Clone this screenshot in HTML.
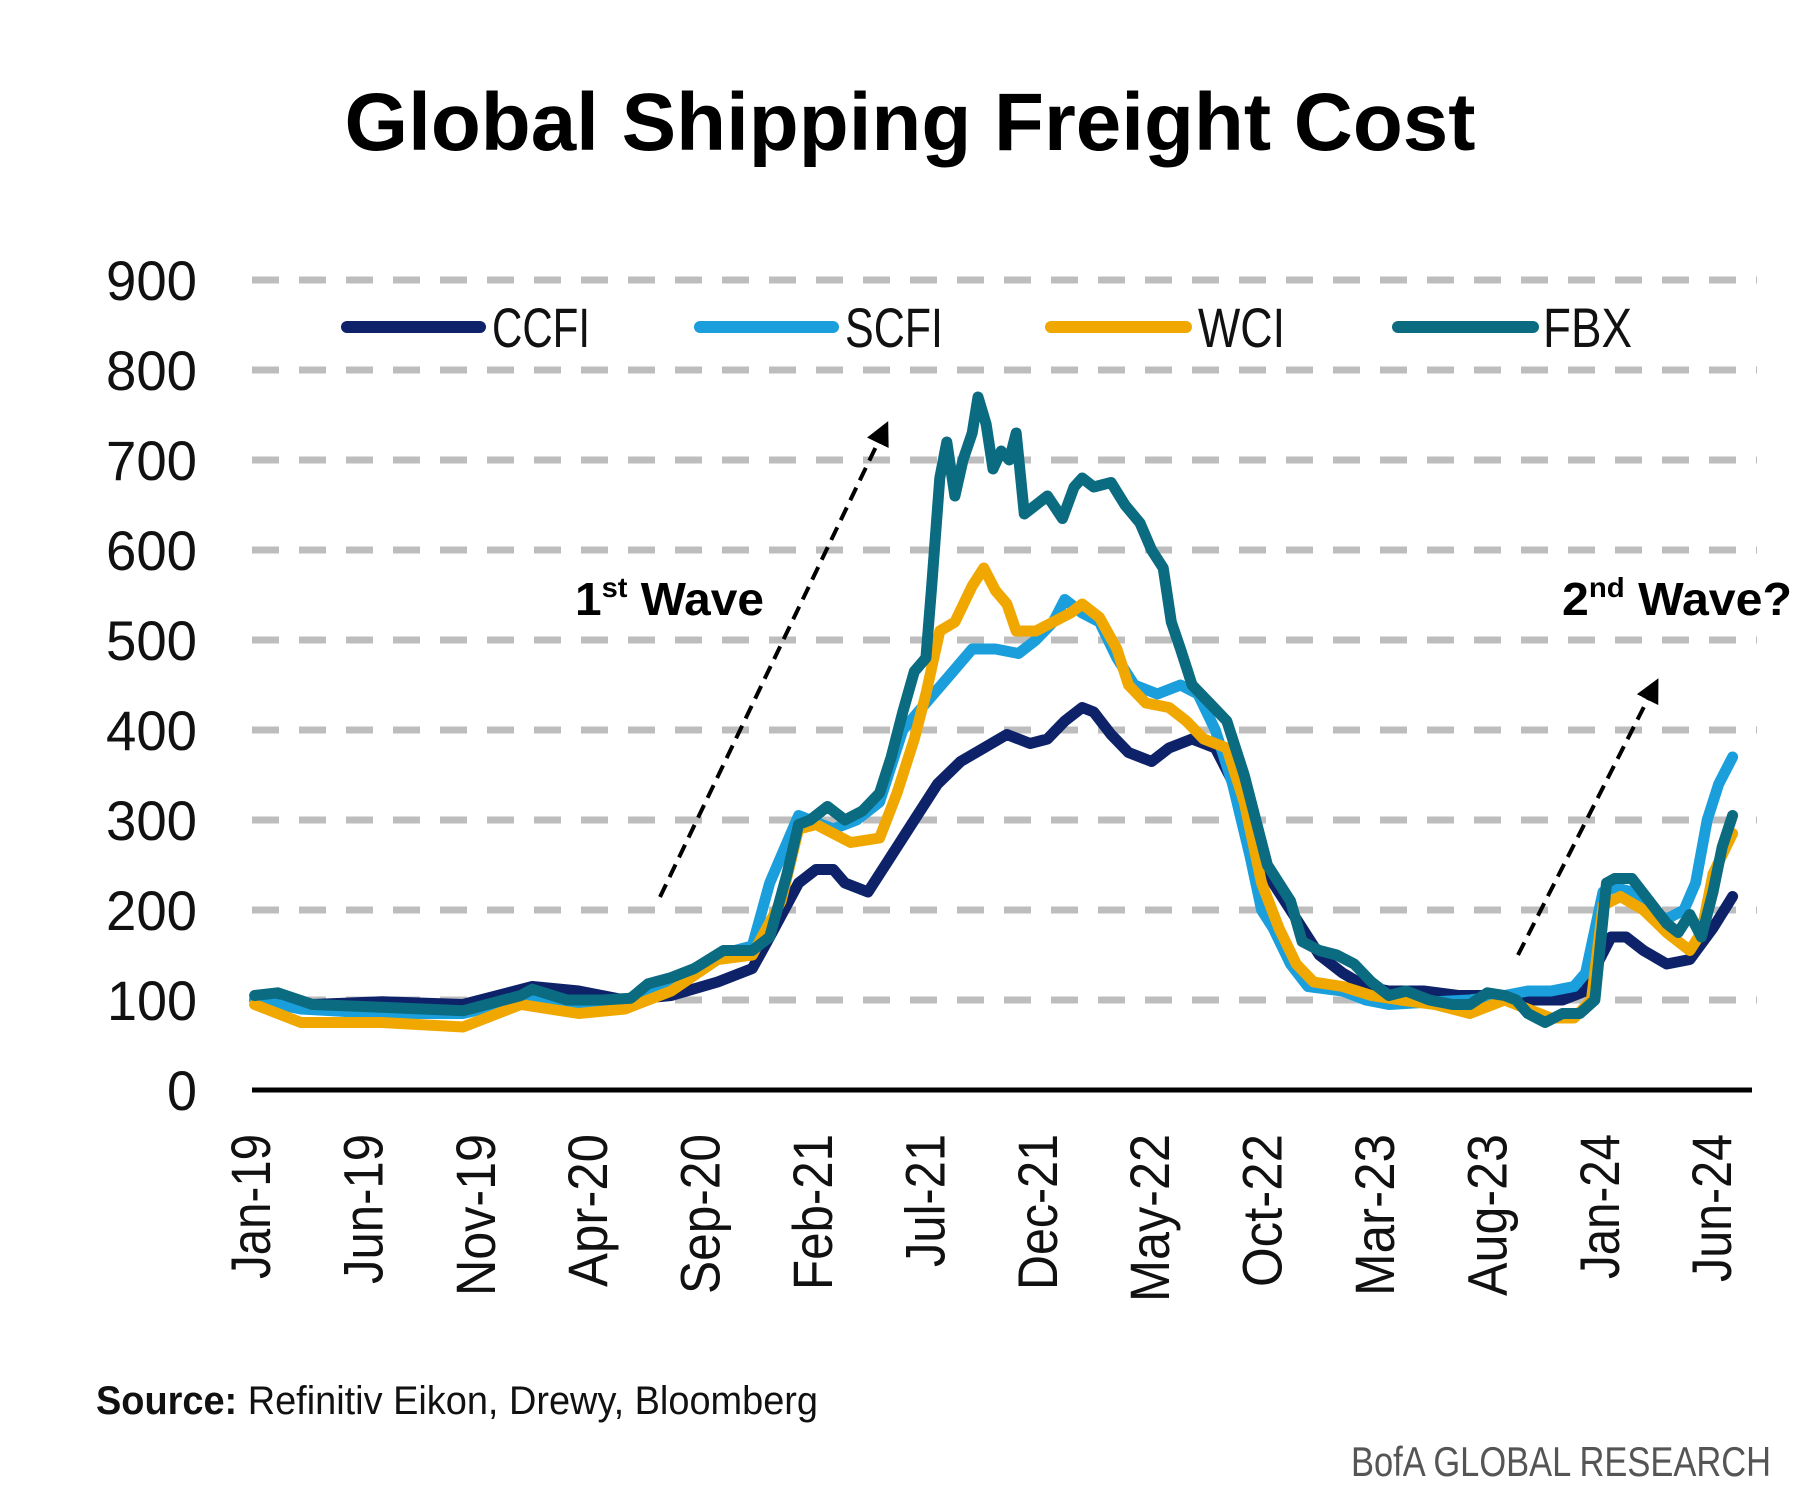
<!DOCTYPE html>
<html><head><meta charset="utf-8"><style>
html,body{margin:0;padding:0;background:#fff;}
svg{display:block;}
text{font-family:"Liberation Sans Narrow","Liberation Sans",sans-serif;}
</style></head><body>
<svg id="s" width="1809" height="1496" viewBox="0 0 1809 1496" xmlns="http://www.w3.org/2000/svg">
<text x="910" y="150" text-anchor="middle" font-size="82" font-weight="bold" textLength="1131" lengthAdjust="spacingAndGlyphs" style="font-family:'Liberation Sans',sans-serif">Global Shipping Freight Cost</text>
<g id="grid" stroke="#bdbdbd" stroke-width="7" stroke-dasharray="27 20"></g>
<g id="ylab" font-size="56" text-anchor="end" fill="#111"></g>
<g id="xlab" font-size="56" text-anchor="end" fill="#111"></g>
<line x1="252" y1="1090" x2="1752" y2="1090" stroke="#000" stroke-width="5"/>
<g id="series" fill="none" stroke-width="11" stroke-linejoin="round" stroke-linecap="round"></g>
<g stroke-width="12" stroke-linecap="round">
<line x1="347" y1="327" x2="480" y2="327" stroke="#0d2269"/>
<line x1="700" y1="327" x2="833" y2="327" stroke="#1a9fdc"/>
<line x1="1051" y1="327" x2="1186" y2="327" stroke="#f0a800"/>
<line x1="1398" y1="327" x2="1533" y2="327" stroke="#0b6b80"/>
</g>
<g font-size="56" fill="#111">
<text x="492" y="347" textLength="98" lengthAdjust="spacingAndGlyphs">CCFI</text>
<text x="845" y="347" textLength="98" lengthAdjust="spacingAndGlyphs">SCFI</text>
<text x="1198" y="347" textLength="87" lengthAdjust="spacingAndGlyphs">WCI</text>
<text x="1543" y="347" textLength="89" lengthAdjust="spacingAndGlyphs">FBX</text>
</g>
<defs><marker id="ah" markerWidth="6" markerHeight="6" refX="3" refY="3" orient="auto"><path d="M0,0 L6,3 L0,6 z" fill="#000"/></marker></defs>
<line x1="660" y1="897" x2="883" y2="432" stroke="#000" stroke-width="4" stroke-dasharray="14 8" marker-end="url(#ah)"/>
<line x1="1518" y1="955" x2="1653" y2="689" stroke="#000" stroke-width="4" stroke-dasharray="14 8" marker-end="url(#ah)"/>
<g font-weight="bold" font-size="46" fill="#000" style="font-family:'Liberation Sans',sans-serif">
<text x="575" y="615" textLength="189" lengthAdjust="spacingAndGlyphs">1<tspan font-size="28" dy="-18">st</tspan><tspan dy="18"> Wave</tspan></text>
<text x="1562" y="615" textLength="230" lengthAdjust="spacingAndGlyphs">2<tspan font-size="28" dy="-18">nd</tspan><tspan dy="18"> Wave?</tspan></text>
</g>
<text x="96" y="1414" font-size="40" fill="#111" textLength="722" lengthAdjust="spacingAndGlyphs"><tspan font-weight="bold">Source:</tspan> Refinitiv Eikon, Drewy, Bloomberg</text>
<text x="1771" y="1476" font-size="42" fill="#555" text-anchor="end" textLength="420" lengthAdjust="spacingAndGlyphs">BofA GLOBAL RESEARCH</text>
</svg>
<script>
var NS="http://www.w3.org/2000/svg";
function el(t,a,p,txt){var e=document.createElementNS(NS,t);for(var k in a)e.setAttribute(k,a[k]);if(txt!=null)e.textContent=txt;p.appendChild(e);return e;}
var g=document.getElementById('grid'),yl=document.getElementById('ylab'),xl=document.getElementById('xlab');
for(var v=0;v<=900;v+=100){var y=1090-v*0.9;if(v>0)el('line',{x1:252,y1:y,x2:1757,y2:y},g);el('text',{x:197,y:y+20,textLength:(v==0?30:(v==100?90:91)),lengthAdjust:'spacingAndGlyphs'},yl,String(v));}
var xs=["Jan-19","Jun-19","Nov-19","Apr-20","Sep-20","Feb-21","Jul-21","Dec-21","May-22","Oct-22","Mar-23","Aug-23","Jan-24","Jun-24"];
var xw=[145,150,162,153,160,156,133,156,168,153,162,162,145,148];
xs.forEach(function(s,i){var x=254+i*112.4+16;el('text',{transform:'translate('+x+',1134) rotate(-90)',x:0,y:0,textLength:xw[i],lengthAdjust:'spacingAndGlyphs'},xl,s);});
var S={
"#0d2269":[[220,100],[270,95],[330,98],[400,95],[460,115],[500,110],[540,100],[580,105],[620,120],[650,135],[665,170],[690,230],[705,245],[720,245],[730,230],[750,220],[770,260],[790,300],[810,340],[830,365],[850,380],[870,395],[890,385],[905,390],[920,410],[935,425],[945,420],[960,395],[975,375],[995,365],[1010,380],[1030,390],[1050,380],[1070,330],[1085,270],[1100,230],[1120,190],[1140,150],[1160,130],[1180,115],[1200,110],[1230,110],[1260,105],[1290,105],[1320,100],[1350,100],[1370,110],[1380,140],[1392,170],[1405,170],[1420,155],[1440,140],[1460,145],[1480,180],[1497,215]],
"#1a9fdc":[[220,100],[260,90],[330,85],[400,85],[450,100],[500,95],[540,100],[580,120],[620,150],[650,160],[665,230],[690,305],[700,300],[720,290],[740,300],[760,320],[780,400],[800,430],[820,460],[840,490],[860,490],[880,485],[895,500],[910,520],[920,545],[935,530],[950,520],[965,480],[980,450],[1000,440],[1020,450],[1035,440],[1050,400],[1065,340],[1080,260],[1090,200],[1100,180],[1115,140],[1130,115],[1160,110],[1180,100],[1200,95],[1240,98],[1270,100],[1300,105],[1320,110],[1340,110],[1360,115],[1370,130],[1385,220],[1395,225],[1410,220],[1425,200],[1440,190],[1455,200],[1465,230],[1475,300],[1485,340],[1497,370]],
"#f0a800":[[220,95],[260,75],[330,75],[400,70],[450,95],[500,85],[540,90],[580,110],[620,145],[650,150],[675,210],[690,290],[705,295],[720,285],[735,275],[760,280],[775,330],[790,390],[800,440],[812,510],[825,520],[840,560],[850,580],[860,555],[870,540],[878,510],[895,510],[910,520],[925,530],[935,540],[950,525],[965,490],[975,450],[990,430],[1010,425],[1025,410],[1040,390],[1060,380],[1075,320],[1090,230],[1105,180],[1120,140],[1135,120],[1160,115],[1185,105],[1210,100],[1240,95],[1270,85],[1300,100],[1320,90],[1340,80],[1360,80],[1375,100],[1385,205],[1400,215],[1420,200],[1440,175],[1460,155],[1470,175],[1480,240],[1497,285]],
"#0b6b80":[[220,105],[240,108],[270,95],[330,92],[400,88],[450,105],[460,112],[490,100],[520,100],[545,102],[560,118],[580,125],[600,135],[625,155],[650,155],[665,170],[680,240],[690,295],[700,300],[715,315],[730,300],[745,310],[760,330],[770,370],[780,420],[790,465],[800,480],[805,560],[812,680],[818,720],[825,660],[832,700],[840,730],[845,770],[852,740],[858,690],[865,710],[872,700],[878,730],[885,640],[895,650],[905,660],[918,635],[928,670],[935,680],[945,670],[960,675],[972,650],[985,630],[995,600],[1005,580],[1012,520],[1020,490],[1030,450],[1045,430],[1060,410],[1075,350],[1085,300],[1095,250],[1105,230],[1115,210],[1125,165],[1140,155],[1155,150],[1170,140],[1185,120],[1200,105],[1215,110],[1235,100],[1255,95],[1270,95],[1285,108],[1300,105],[1310,100],[1320,85],[1335,75],[1350,85],[1365,85],[1378,100],[1388,230],[1395,235],[1410,235],[1425,210],[1440,185],[1450,175],[1460,195],[1470,170],[1480,220],[1488,270],[1497,305]]};
var sg=document.getElementById('series');
for(var c in S){var pts=S[c].map(function(p){return (p[0]*1.1574).toFixed(1)+','+(1090-p[1]*0.9).toFixed(1);}).join(' ');el('polyline',{points:pts,stroke:c},sg);}
</script>
</body></html>
